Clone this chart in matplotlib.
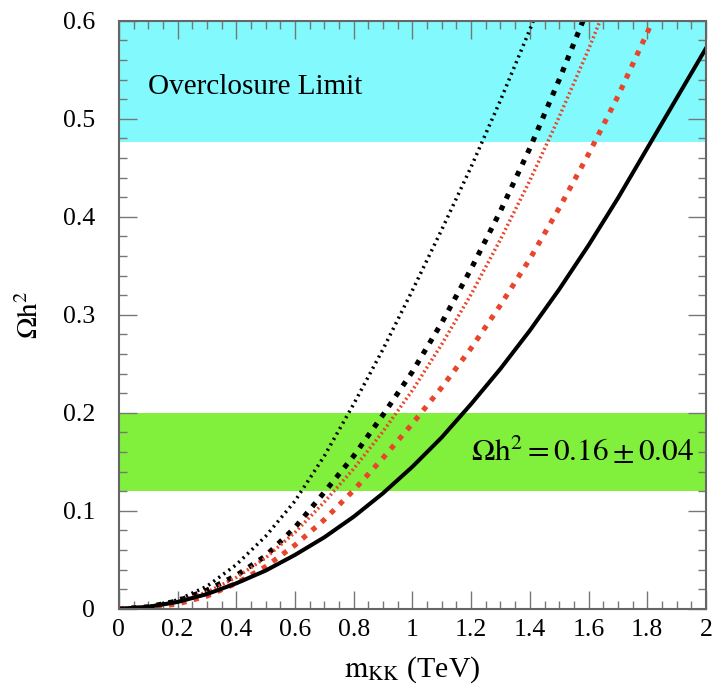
import matplotlib
matplotlib.use('Agg')
import matplotlib.pyplot as plt
from matplotlib.ticker import MultipleLocator

plt.rcParams['font.family'] = ['Liberation Serif', 'DejaVu Serif']
plt.rcParams['mathtext.fontset'] = 'stix'

# masses (TeV) and relic density curves
m = [0.0, 0.1, 0.2, 0.3, 0.4, 0.5, 0.6, 0.7, 0.8, 0.9, 1.0,
     1.1, 1.2, 1.3, 1.4, 1.5, 1.6, 1.7, 1.8, 1.9, 2.0]
solid_black = [0.0, 0.002, 0.007, 0.015, 0.026, 0.039, 0.055, 0.073, 0.094, 0.118, 0.145,
               0.175, 0.209, 0.245, 0.284, 0.326, 0.371, 0.419, 0.470, 0.521, 0.572]
dash_black = [0.0, 0.002, 0.008, 0.019, 0.034, 0.054, 0.083, 0.119, 0.156, 0.198, 0.242,
              0.292, 0.347, 0.406, 0.470, 0.540, 0.614]
dot_black = [0.0, 0.002, 0.009, 0.023, 0.045, 0.074, 0.110, 0.156, 0.209, 0.265, 0.325,
             0.387, 0.451, 0.519, 0.591, 0.668]
dot_red = [0.0, 0.002, 0.007, 0.017, 0.032, 0.052, 0.078, 0.109, 0.143, 0.181, 0.223,
           0.270, 0.321, 0.377, 0.437, 0.502, 0.571, 0.645]
dash_red = [0.0, 0.001, 0.005, 0.013, 0.026, 0.043, 0.065, 0.091, 0.121, 0.154, 0.189,
            0.226, 0.266, 0.310, 0.357, 0.409, 0.464, 0.523, 0.588, 0.655]

wmap_band = (0.12, 0.20)
overclosure = (0.476, 0.6)

red = '#e8452c'

fig = plt.figure(figsize=(7.16, 6.95), dpi=100)
ax = fig.add_axes([0.166, 0.124, 0.820, 0.846])

ax.axhspan(*overclosure, color='#82f9fc', lw=0, zorder=0)
ax.axhspan(*wmap_band, color='#80f03c', lw=0, zorder=0)

ax.plot(m[:len(dot_black)], dot_black, color='black', lw=2.5, ls=(0, (0.6, 1.2)))
ax.plot(m[:len(dash_black)], dash_black, color='black', lw=3.7, ls=(0, (1, 1.45)))
ax.plot(m[:len(dot_red)], dot_red, color=red, lw=2.5, ls=(0, (0.55, 0.8)))
ax.plot(m[:len(dash_red)], dash_red, color=red, lw=3.7, ls=(0, (1, 1.45)))
ax.plot(m, solid_black, color='black', lw=2.9)

ax.text(0.1, 0.533, 'Overclosure Limit', fontsize=21, va='center', ha='left')
ax.text(1.96, 0.16, r'$\Omega\mathrm{h}^2 = 0.16 \pm 0.04$', fontsize=22.5,
        va='center', ha='right')

ax.set_xlim(0, 2)
ax.set_ylim(0, 0.6)
ax.xaxis.set_major_locator(MultipleLocator(0.2))
ax.xaxis.set_minor_locator(MultipleLocator(0.05))
ax.yaxis.set_major_locator(MultipleLocator(0.1))
ax.yaxis.set_minor_locator(MultipleLocator(0.02))
ax.xaxis.set_major_formatter(plt.FuncFormatter(lambda v, p: '%g' % round(v, 2)))
ax.yaxis.set_major_formatter(plt.FuncFormatter(lambda v, p: '%g' % round(v, 2)))

ax.tick_params(which='both', direction='in', top=True, right=True, color='#777777',
               labelsize=18.5, width=1)
ax.tick_params(which='major', length=13)
ax.tick_params(which='minor', length=6)
ax.tick_params(axis='x', which='major', pad=7)
ax.tick_params(axis='y', which='major', pad=17)
for s in ax.spines.values():
    s.set_color('#666666')
    s.set_linewidth(1.5)

ax.set_xlabel(r'$\mathrm{m}_{\mathrm{KK}}$ (TeV)', fontsize=21.5, labelpad=10)
ax.set_ylabel(r'$\Omega\mathrm{h}^2$', fontsize=21, labelpad=14)

fig.savefig('out.png', dpi=100)
